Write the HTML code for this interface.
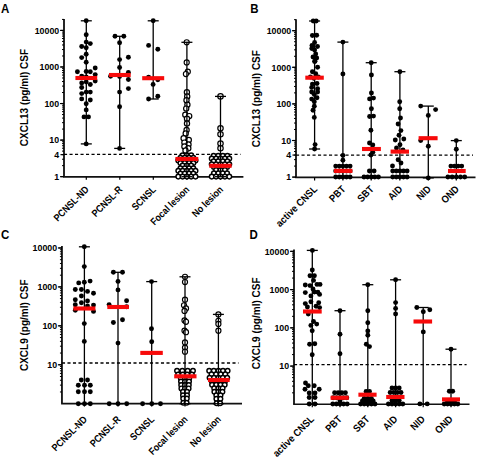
<!DOCTYPE html><html><head><meta charset="utf-8"><style>html,body{margin:0;padding:0;background:#fff;}svg{display:block;}</style></head><body>
<svg width="480" height="460" viewBox="0 0 480 460" font-family='"Liberation Sans", sans-serif'>
<rect width="480" height="460" fill="#fff"/>
<text transform="translate(1.0 12.7) scale(0.92 1)" font-size="12.5" font-weight="bold">A</text>
<text transform="translate(250.3 12.5) scale(0.92 1)" font-size="12.5" font-weight="bold">B</text>
<text transform="translate(0.9 239.3) scale(0.92 1)" font-size="12.5" font-weight="bold">C</text>
<text transform="translate(249.6 239.3) scale(0.92 1)" font-size="12.5" font-weight="bold">D</text>
<line x1="64.0" y1="18.9" x2="64.0" y2="176.85" stroke="#000" stroke-width="1.7"/>
<line x1="63.15" y1="176.85" x2="243.4" y2="176.85" stroke="#111" stroke-width="1.6"/>
<line x1="60.0" y1="176.66" x2="64.0" y2="176.66" stroke="#000" stroke-width="1"/>
<line x1="62.0" y1="165.65" x2="64.0" y2="165.65" stroke="#000" stroke-width="1"/>
<line x1="62.0" y1="159.22" x2="64.0" y2="159.22" stroke="#000" stroke-width="1"/>
<line x1="62.0" y1="154.65" x2="64.0" y2="154.65" stroke="#000" stroke-width="1"/>
<line x1="62.0" y1="151.11" x2="64.0" y2="151.11" stroke="#000" stroke-width="1"/>
<line x1="62.0" y1="148.21" x2="64.0" y2="148.21" stroke="#000" stroke-width="1"/>
<line x1="62.0" y1="145.76" x2="64.0" y2="145.76" stroke="#000" stroke-width="1"/>
<line x1="62.0" y1="143.64" x2="64.0" y2="143.64" stroke="#000" stroke-width="1"/>
<line x1="62.0" y1="141.77" x2="64.0" y2="141.77" stroke="#000" stroke-width="1"/>
<line x1="60.0" y1="140.10" x2="64.0" y2="140.10" stroke="#000" stroke-width="1"/>
<line x1="62.0" y1="129.09" x2="64.0" y2="129.09" stroke="#000" stroke-width="1"/>
<line x1="62.0" y1="122.66" x2="64.0" y2="122.66" stroke="#000" stroke-width="1"/>
<line x1="62.0" y1="118.09" x2="64.0" y2="118.09" stroke="#000" stroke-width="1"/>
<line x1="62.0" y1="114.55" x2="64.0" y2="114.55" stroke="#000" stroke-width="1"/>
<line x1="62.0" y1="111.65" x2="64.0" y2="111.65" stroke="#000" stroke-width="1"/>
<line x1="62.0" y1="109.20" x2="64.0" y2="109.20" stroke="#000" stroke-width="1"/>
<line x1="62.0" y1="107.08" x2="64.0" y2="107.08" stroke="#000" stroke-width="1"/>
<line x1="62.0" y1="105.21" x2="64.0" y2="105.21" stroke="#000" stroke-width="1"/>
<line x1="60.0" y1="103.54" x2="64.0" y2="103.54" stroke="#000" stroke-width="1"/>
<line x1="62.0" y1="92.53" x2="64.0" y2="92.53" stroke="#000" stroke-width="1"/>
<line x1="62.0" y1="86.10" x2="64.0" y2="86.10" stroke="#000" stroke-width="1"/>
<line x1="62.0" y1="81.53" x2="64.0" y2="81.53" stroke="#000" stroke-width="1"/>
<line x1="62.0" y1="77.99" x2="64.0" y2="77.99" stroke="#000" stroke-width="1"/>
<line x1="62.0" y1="75.09" x2="64.0" y2="75.09" stroke="#000" stroke-width="1"/>
<line x1="62.0" y1="72.64" x2="64.0" y2="72.64" stroke="#000" stroke-width="1"/>
<line x1="62.0" y1="70.52" x2="64.0" y2="70.52" stroke="#000" stroke-width="1"/>
<line x1="62.0" y1="68.65" x2="64.0" y2="68.65" stroke="#000" stroke-width="1"/>
<line x1="60.0" y1="66.98" x2="64.0" y2="66.98" stroke="#000" stroke-width="1"/>
<line x1="62.0" y1="55.97" x2="64.0" y2="55.97" stroke="#000" stroke-width="1"/>
<line x1="62.0" y1="49.54" x2="64.0" y2="49.54" stroke="#000" stroke-width="1"/>
<line x1="62.0" y1="44.97" x2="64.0" y2="44.97" stroke="#000" stroke-width="1"/>
<line x1="62.0" y1="41.43" x2="64.0" y2="41.43" stroke="#000" stroke-width="1"/>
<line x1="62.0" y1="38.53" x2="64.0" y2="38.53" stroke="#000" stroke-width="1"/>
<line x1="62.0" y1="36.08" x2="64.0" y2="36.08" stroke="#000" stroke-width="1"/>
<line x1="62.0" y1="33.96" x2="64.0" y2="33.96" stroke="#000" stroke-width="1"/>
<line x1="62.0" y1="32.09" x2="64.0" y2="32.09" stroke="#000" stroke-width="1"/>
<line x1="60.0" y1="30.42" x2="64.0" y2="30.42" stroke="#000" stroke-width="1"/>
<line x1="62.0" y1="19.41" x2="64.0" y2="19.41" stroke="#000" stroke-width="1"/>
<line x1="60.5" y1="176.66" x2="64.0" y2="176.66" stroke="#000" stroke-width="1.2"/>
<text transform="translate(59.20 179.91) scale(0.92 1)" text-anchor="end" font-size="9.6" font-weight="bold">1</text>
<line x1="60.5" y1="154.65" x2="64.0" y2="154.65" stroke="#000" stroke-width="1.2"/>
<text transform="translate(59.20 157.90) scale(0.92 1)" text-anchor="end" font-size="9.6" font-weight="bold">4</text>
<line x1="60.5" y1="140.10" x2="64.0" y2="140.10" stroke="#000" stroke-width="1.2"/>
<text transform="translate(59.20 143.35) scale(0.92 1)" text-anchor="end" font-size="9.6" font-weight="bold">10</text>
<line x1="60.5" y1="103.54" x2="64.0" y2="103.54" stroke="#000" stroke-width="1.2"/>
<text transform="translate(59.20 106.79) scale(0.92 1)" text-anchor="end" font-size="9.6" font-weight="bold">100</text>
<line x1="60.5" y1="66.98" x2="64.0" y2="66.98" stroke="#000" stroke-width="1.2"/>
<text transform="translate(59.20 70.23) scale(0.92 1)" text-anchor="end" font-size="9.6" font-weight="bold">1000</text>
<line x1="60.5" y1="30.42" x2="64.0" y2="30.42" stroke="#000" stroke-width="1.2"/>
<text transform="translate(59.20 33.67) scale(0.92 1)" text-anchor="end" font-size="9.6" font-weight="bold">10000</text>
<line x1="64.0" y1="154.4" x2="240.5" y2="154.4" stroke="#000" stroke-width="1.3" stroke-dasharray="3.1 2.4"/>
<line x1="86.3" y1="176.85" x2="86.3" y2="179.85" stroke="#000" stroke-width="1.2"/>
<text transform="translate(89.50 190.15) rotate(-45) scale(0.87 1)" text-anchor="end" font-size="10" font-weight="bold">PCNSL-ND</text>
<line x1="119.8" y1="176.85" x2="119.8" y2="179.85" stroke="#000" stroke-width="1.2"/>
<text transform="translate(123.00 190.15) rotate(-45) scale(0.87 1)" text-anchor="end" font-size="10" font-weight="bold">PCNSL-R</text>
<line x1="153.3" y1="176.85" x2="153.3" y2="179.85" stroke="#000" stroke-width="1.2"/>
<text transform="translate(156.50 190.15) rotate(-45) scale(0.87 1)" text-anchor="end" font-size="10" font-weight="bold">SCNSL</text>
<line x1="186.9" y1="176.85" x2="186.9" y2="179.85" stroke="#000" stroke-width="1.2"/>
<text transform="translate(190.10 190.15) rotate(-45) scale(0.87 1)" text-anchor="end" font-size="10" font-weight="bold">Focal lesion</text>
<line x1="220.5" y1="176.85" x2="220.5" y2="179.85" stroke="#000" stroke-width="1.2"/>
<text transform="translate(223.70 190.15) rotate(-45) scale(0.87 1)" text-anchor="end" font-size="10" font-weight="bold">No lesion</text>
<text x="28.3" y="97.6" text-anchor="middle" font-size="10" font-weight="bold" transform="rotate(-90 28.3 97.6)">CXCL13 (pg/ml) CSF</text>
<line x1="86.3" y1="20.8" x2="86.3" y2="143.9" stroke="#000" stroke-width="1.3"/>
<line x1="80.8" y1="20.8" x2="91.8" y2="20.8" stroke="#000" stroke-width="1.3"/>
<line x1="80.8" y1="143.9" x2="91.8" y2="143.9" stroke="#000" stroke-width="1.3"/>
<circle cx="86.2" cy="20.8" r="2.45"/>
<circle cx="86.2" cy="34.8" r="2.45"/>
<circle cx="86.2" cy="42.1" r="2.45"/>
<circle cx="90.3" cy="43.6" r="2.45"/>
<circle cx="81.7" cy="46.5" r="2.45"/>
<circle cx="86.2" cy="47.7" r="2.45"/>
<circle cx="86.2" cy="54.3" r="2.45"/>
<circle cx="81.7" cy="57.6" r="2.45"/>
<circle cx="86.2" cy="62.2" r="2.45"/>
<circle cx="95.2" cy="68" r="2.45"/>
<circle cx="77.4" cy="71.8" r="2.45"/>
<circle cx="86.2" cy="71.5" r="2.45"/>
<circle cx="90.3" cy="71.8" r="2.45"/>
<circle cx="95.2" cy="74.6" r="2.45"/>
<circle cx="81.7" cy="76.1" r="2.45"/>
<circle cx="86.2" cy="77" r="2.45"/>
<circle cx="95.2" cy="81" r="2.45"/>
<circle cx="81.7" cy="82.9" r="2.45"/>
<circle cx="86.2" cy="81.9" r="2.45"/>
<circle cx="90.3" cy="84.5" r="2.45"/>
<circle cx="81.7" cy="87.5" r="2.45"/>
<circle cx="81.7" cy="93.6" r="2.45"/>
<circle cx="86.2" cy="92.1" r="2.45"/>
<circle cx="90.3" cy="92.1" r="2.45"/>
<circle cx="81.7" cy="98.9" r="2.45"/>
<circle cx="90.3" cy="100" r="2.45"/>
<circle cx="86.2" cy="103.8" r="2.45"/>
<circle cx="86.2" cy="109.9" r="2.45"/>
<circle cx="84" cy="116.9" r="2.45"/>
<circle cx="88.5" cy="116.9" r="2.45"/>
<circle cx="86.2" cy="143.9" r="2.45"/>
<rect x="75.4" y="75.95" width="21.799999999999997" height="4.1" fill="#f70a0a"/>
<line x1="119.7" y1="36.3" x2="119.7" y2="148.4" stroke="#000" stroke-width="1.3"/>
<line x1="114.2" y1="36.3" x2="125.2" y2="36.3" stroke="#000" stroke-width="1.3"/>
<line x1="114.2" y1="148.4" x2="125.2" y2="148.4" stroke="#000" stroke-width="1.3"/>
<circle cx="115" cy="36.3" r="2.45"/>
<circle cx="123.8" cy="36.3" r="2.45"/>
<circle cx="119.6" cy="42.8" r="2.45"/>
<circle cx="128.4" cy="57.3" r="2.45"/>
<circle cx="119.6" cy="59.6" r="2.45"/>
<circle cx="119.6" cy="67.5" r="2.45"/>
<circle cx="128.4" cy="72.5" r="2.45"/>
<circle cx="110.6" cy="76.3" r="2.45"/>
<circle cx="119.6" cy="76.6" r="2.45"/>
<circle cx="128.4" cy="79.5" r="2.45"/>
<circle cx="128.4" cy="88.6" r="2.45"/>
<circle cx="119.6" cy="92.1" r="2.45"/>
<circle cx="119.6" cy="106.8" r="2.45"/>
<circle cx="119.6" cy="148.4" r="2.45"/>
<rect x="109.0" y="72.95" width="21.69999999999999" height="4.1" fill="#f70a0a"/>
<line x1="153.2" y1="20.8" x2="153.2" y2="99.0" stroke="#000" stroke-width="1.3"/>
<line x1="147.7" y1="20.8" x2="158.7" y2="20.8" stroke="#000" stroke-width="1.3"/>
<line x1="147.7" y1="99.0" x2="158.7" y2="99.0" stroke="#000" stroke-width="1.3"/>
<circle cx="153.2" cy="20.8" r="2.45"/>
<circle cx="148.6" cy="45.4" r="2.45"/>
<circle cx="157.8" cy="49.2" r="2.45"/>
<circle cx="148.6" cy="77.1" r="2.45"/>
<circle cx="157.8" cy="79.7" r="2.45"/>
<circle cx="153.1" cy="84.4" r="2.45"/>
<circle cx="157.8" cy="96.3" r="2.45"/>
<circle cx="148.6" cy="99" r="2.45"/>
<rect x="142.2" y="76.15" width="22.0" height="4.1" fill="#f70a0a"/>
<circle cx="186.7" cy="42.3" r="2.55" fill="#fff" stroke="#000" stroke-width="1.15"/>
<circle cx="186.7" cy="62.4" r="2.55" fill="#fff" stroke="#000" stroke-width="1.15"/>
<circle cx="187.8" cy="71.7" r="2.55" fill="#fff" stroke="#000" stroke-width="1.15"/>
<circle cx="185.9" cy="74.1" r="2.55" fill="#fff" stroke="#000" stroke-width="1.15"/>
<circle cx="186.9" cy="92.3" r="2.6" fill="#fff" stroke="#000" stroke-width="1.2"/>
<circle cx="187.2" cy="96.4" r="2.6" fill="#fff" stroke="#000" stroke-width="1.2"/>
<circle cx="186.5" cy="100.2" r="2.6" fill="#fff" stroke="#000" stroke-width="1.2"/>
<circle cx="187.4" cy="104.8" r="2.6" fill="#fff" stroke="#000" stroke-width="1.2"/>
<circle cx="186.2" cy="108.6" r="2.6" fill="#fff" stroke="#000" stroke-width="1.2"/>
<circle cx="185.3" cy="114.8" r="2.6" fill="#fff" stroke="#000" stroke-width="1.2"/>
<circle cx="189.2" cy="116.1" r="2.6" fill="#fff" stroke="#000" stroke-width="1.2"/>
<circle cx="187" cy="118.7" r="2.6" fill="#fff" stroke="#000" stroke-width="1.2"/>
<circle cx="187" cy="123.5" r="2.6" fill="#fff" stroke="#000" stroke-width="1.2"/>
<circle cx="186.6" cy="130" r="2.6" fill="#fff" stroke="#000" stroke-width="1.2"/>
<circle cx="185.7" cy="133.5" r="2.6" fill="#fff" stroke="#000" stroke-width="1.2"/>
<circle cx="183.6" cy="138.3" r="2.6" fill="#fff" stroke="#000" stroke-width="1.2"/>
<circle cx="188.8" cy="140" r="2.6" fill="#fff" stroke="#000" stroke-width="1.2"/>
<circle cx="184.4" cy="142.6" r="2.6" fill="#fff" stroke="#000" stroke-width="1.2"/>
<circle cx="188.5" cy="144.5" r="2.6" fill="#fff" stroke="#000" stroke-width="1.2"/>
<circle cx="184.4" cy="146.5" r="2.6" fill="#fff" stroke="#000" stroke-width="1.2"/>
<circle cx="188.3" cy="148.3" r="2.6" fill="#fff" stroke="#000" stroke-width="1.2"/>
<circle cx="185.5" cy="150.5" r="2.6" fill="#fff" stroke="#000" stroke-width="1.2"/>
<circle cx="182.6" cy="155.2" r="2.3" fill="#fff" stroke="#000" stroke-width="1.45"/>
<circle cx="186.9" cy="155.2" r="2.3" fill="#fff" stroke="#000" stroke-width="1.45"/>
<circle cx="191.20000000000002" cy="155.2" r="2.3" fill="#fff" stroke="#000" stroke-width="1.45"/>
<circle cx="180.45000000000002" cy="157.8" r="2.3" fill="#fff" stroke="#000" stroke-width="1.45"/>
<circle cx="184.75" cy="157.8" r="2.3" fill="#fff" stroke="#000" stroke-width="1.45"/>
<circle cx="189.05" cy="157.8" r="2.3" fill="#fff" stroke="#000" stroke-width="1.45"/>
<circle cx="193.35" cy="157.8" r="2.3" fill="#fff" stroke="#000" stroke-width="1.45"/>
<circle cx="178.3" cy="160.4" r="2.3" fill="#fff" stroke="#000" stroke-width="1.45"/>
<circle cx="182.6" cy="160.4" r="2.3" fill="#fff" stroke="#000" stroke-width="1.45"/>
<circle cx="186.9" cy="160.4" r="2.3" fill="#fff" stroke="#000" stroke-width="1.45"/>
<circle cx="191.20000000000002" cy="160.4" r="2.3" fill="#fff" stroke="#000" stroke-width="1.45"/>
<circle cx="195.5" cy="160.4" r="2.3" fill="#fff" stroke="#000" stroke-width="1.45"/>
<circle cx="180.45000000000002" cy="163" r="2.3" fill="#fff" stroke="#000" stroke-width="1.45"/>
<circle cx="184.75" cy="163" r="2.3" fill="#fff" stroke="#000" stroke-width="1.45"/>
<circle cx="189.05" cy="163" r="2.3" fill="#fff" stroke="#000" stroke-width="1.45"/>
<circle cx="193.35" cy="163" r="2.3" fill="#fff" stroke="#000" stroke-width="1.45"/>
<circle cx="182.6" cy="165.6" r="2.3" fill="#fff" stroke="#000" stroke-width="1.45"/>
<circle cx="186.9" cy="165.6" r="2.3" fill="#fff" stroke="#000" stroke-width="1.45"/>
<circle cx="191.20000000000002" cy="165.6" r="2.3" fill="#fff" stroke="#000" stroke-width="1.45"/>
<circle cx="180.45000000000002" cy="168.2" r="2.3" fill="#fff" stroke="#000" stroke-width="1.45"/>
<circle cx="184.75" cy="168.2" r="2.3" fill="#fff" stroke="#000" stroke-width="1.45"/>
<circle cx="189.05" cy="168.2" r="2.3" fill="#fff" stroke="#000" stroke-width="1.45"/>
<circle cx="193.35" cy="168.2" r="2.3" fill="#fff" stroke="#000" stroke-width="1.45"/>
<circle cx="178.3" cy="170.8" r="2.3" fill="#fff" stroke="#000" stroke-width="1.45"/>
<circle cx="182.6" cy="170.8" r="2.3" fill="#fff" stroke="#000" stroke-width="1.45"/>
<circle cx="186.9" cy="170.8" r="2.3" fill="#fff" stroke="#000" stroke-width="1.45"/>
<circle cx="191.20000000000002" cy="170.8" r="2.3" fill="#fff" stroke="#000" stroke-width="1.45"/>
<circle cx="195.5" cy="170.8" r="2.3" fill="#fff" stroke="#000" stroke-width="1.45"/>
<circle cx="180.45000000000002" cy="173.6" r="2.3" fill="#fff" stroke="#000" stroke-width="1.45"/>
<circle cx="184.75" cy="173.6" r="2.3" fill="#fff" stroke="#000" stroke-width="1.45"/>
<circle cx="189.05" cy="173.6" r="2.3" fill="#fff" stroke="#000" stroke-width="1.45"/>
<circle cx="193.35" cy="173.6" r="2.3" fill="#fff" stroke="#000" stroke-width="1.45"/>
<circle cx="178.3" cy="176.6" r="2.3" fill="#fff" stroke="#000" stroke-width="1.45"/>
<circle cx="182.6" cy="176.6" r="2.3" fill="#fff" stroke="#000" stroke-width="1.45"/>
<circle cx="186.9" cy="176.6" r="2.3" fill="#fff" stroke="#000" stroke-width="1.45"/>
<circle cx="191.20000000000002" cy="176.6" r="2.3" fill="#fff" stroke="#000" stroke-width="1.45"/>
<circle cx="195.5" cy="176.6" r="2.3" fill="#fff" stroke="#000" stroke-width="1.45"/>
<line x1="186.9" y1="42.3" x2="186.9" y2="176.7" stroke="#000" stroke-width="1.3"/>
<line x1="181.4" y1="42.3" x2="192.4" y2="42.3" stroke="#000" stroke-width="1.3"/>
<line x1="181.4" y1="176.7" x2="192.4" y2="176.7" stroke="#000" stroke-width="1.3"/>
<rect x="175.4" y="156.95" width="22.900000000000006" height="4.1" fill="#f70a0a"/>
<circle cx="220.5" cy="96.4" r="2.7" fill="#fff" stroke="#000" stroke-width="1.2"/>
<circle cx="220.5" cy="128.3" r="2.7" fill="#fff" stroke="#000" stroke-width="1.2"/>
<circle cx="220.5" cy="134.3" r="2.7" fill="#fff" stroke="#000" stroke-width="1.2"/>
<circle cx="220.5" cy="143.5" r="2.7" fill="#fff" stroke="#000" stroke-width="1.2"/>
<circle cx="220.5" cy="148.3" r="2.7" fill="#fff" stroke="#000" stroke-width="1.2"/>
<circle cx="213.6" cy="155.8" r="2.3" fill="#fff" stroke="#000" stroke-width="1.45"/>
<circle cx="218.2" cy="155.8" r="2.3" fill="#fff" stroke="#000" stroke-width="1.45"/>
<circle cx="222.8" cy="155.8" r="2.3" fill="#fff" stroke="#000" stroke-width="1.45"/>
<circle cx="227.4" cy="155.8" r="2.3" fill="#fff" stroke="#000" stroke-width="1.45"/>
<circle cx="211.7" cy="158.6" r="2.3" fill="#fff" stroke="#000" stroke-width="1.45"/>
<circle cx="216.1" cy="158.6" r="2.3" fill="#fff" stroke="#000" stroke-width="1.45"/>
<circle cx="220.5" cy="158.6" r="2.3" fill="#fff" stroke="#000" stroke-width="1.45"/>
<circle cx="224.9" cy="158.6" r="2.3" fill="#fff" stroke="#000" stroke-width="1.45"/>
<circle cx="229.3" cy="158.6" r="2.3" fill="#fff" stroke="#000" stroke-width="1.45"/>
<circle cx="213.6" cy="161.4" r="2.3" fill="#fff" stroke="#000" stroke-width="1.45"/>
<circle cx="218.2" cy="161.4" r="2.3" fill="#fff" stroke="#000" stroke-width="1.45"/>
<circle cx="222.8" cy="161.4" r="2.3" fill="#fff" stroke="#000" stroke-width="1.45"/>
<circle cx="227.4" cy="161.4" r="2.3" fill="#fff" stroke="#000" stroke-width="1.45"/>
<circle cx="211.7" cy="164.2" r="2.3" fill="#fff" stroke="#000" stroke-width="1.45"/>
<circle cx="216.1" cy="164.2" r="2.3" fill="#fff" stroke="#000" stroke-width="1.45"/>
<circle cx="220.5" cy="164.2" r="2.3" fill="#fff" stroke="#000" stroke-width="1.45"/>
<circle cx="224.9" cy="164.2" r="2.3" fill="#fff" stroke="#000" stroke-width="1.45"/>
<circle cx="229.3" cy="164.2" r="2.3" fill="#fff" stroke="#000" stroke-width="1.45"/>
<circle cx="213.9" cy="167" r="2.3" fill="#fff" stroke="#000" stroke-width="1.45"/>
<circle cx="218.3" cy="167" r="2.3" fill="#fff" stroke="#000" stroke-width="1.45"/>
<circle cx="222.7" cy="167" r="2.3" fill="#fff" stroke="#000" stroke-width="1.45"/>
<circle cx="227.1" cy="167" r="2.3" fill="#fff" stroke="#000" stroke-width="1.45"/>
<circle cx="216.1" cy="170" r="2.3" fill="#fff" stroke="#000" stroke-width="1.45"/>
<circle cx="220.5" cy="170" r="2.3" fill="#fff" stroke="#000" stroke-width="1.45"/>
<circle cx="224.9" cy="170" r="2.3" fill="#fff" stroke="#000" stroke-width="1.45"/>
<circle cx="213.9" cy="173.2" r="2.3" fill="#fff" stroke="#000" stroke-width="1.45"/>
<circle cx="218.3" cy="173.2" r="2.3" fill="#fff" stroke="#000" stroke-width="1.45"/>
<circle cx="222.7" cy="173.2" r="2.3" fill="#fff" stroke="#000" stroke-width="1.45"/>
<circle cx="227.1" cy="173.2" r="2.3" fill="#fff" stroke="#000" stroke-width="1.45"/>
<circle cx="211.7" cy="176.6" r="2.3" fill="#fff" stroke="#000" stroke-width="1.45"/>
<circle cx="216.1" cy="176.6" r="2.3" fill="#fff" stroke="#000" stroke-width="1.45"/>
<circle cx="220.5" cy="176.6" r="2.3" fill="#fff" stroke="#000" stroke-width="1.45"/>
<circle cx="224.9" cy="176.6" r="2.3" fill="#fff" stroke="#000" stroke-width="1.45"/>
<circle cx="229.3" cy="176.6" r="2.3" fill="#fff" stroke="#000" stroke-width="1.45"/>
<line x1="220.5" y1="96.4" x2="220.5" y2="176.7" stroke="#000" stroke-width="1.3"/>
<line x1="215.0" y1="96.4" x2="226.0" y2="96.4" stroke="#000" stroke-width="1.3"/>
<line x1="215.0" y1="176.7" x2="226.0" y2="176.7" stroke="#000" stroke-width="1.3"/>
<rect x="209.3" y="163.75" width="22.299999999999983" height="4.1" fill="#f70a0a"/>
<line x1="296.0" y1="19.2" x2="296.0" y2="177.4" stroke="#000" stroke-width="1.7"/>
<line x1="295.15" y1="177.4" x2="475.5" y2="177.4" stroke="#111" stroke-width="1.6"/>
<line x1="292.0" y1="177.10" x2="296.0" y2="177.10" stroke="#000" stroke-width="1"/>
<line x1="294.0" y1="166.08" x2="296.0" y2="166.08" stroke="#000" stroke-width="1"/>
<line x1="294.0" y1="159.64" x2="296.0" y2="159.64" stroke="#000" stroke-width="1"/>
<line x1="294.0" y1="155.06" x2="296.0" y2="155.06" stroke="#000" stroke-width="1"/>
<line x1="294.0" y1="151.52" x2="296.0" y2="151.52" stroke="#000" stroke-width="1"/>
<line x1="294.0" y1="148.62" x2="296.0" y2="148.62" stroke="#000" stroke-width="1"/>
<line x1="294.0" y1="146.17" x2="296.0" y2="146.17" stroke="#000" stroke-width="1"/>
<line x1="294.0" y1="144.05" x2="296.0" y2="144.05" stroke="#000" stroke-width="1"/>
<line x1="294.0" y1="142.17" x2="296.0" y2="142.17" stroke="#000" stroke-width="1"/>
<line x1="292.0" y1="140.50" x2="296.0" y2="140.50" stroke="#000" stroke-width="1"/>
<line x1="294.0" y1="129.48" x2="296.0" y2="129.48" stroke="#000" stroke-width="1"/>
<line x1="294.0" y1="123.04" x2="296.0" y2="123.04" stroke="#000" stroke-width="1"/>
<line x1="294.0" y1="118.46" x2="296.0" y2="118.46" stroke="#000" stroke-width="1"/>
<line x1="294.0" y1="114.92" x2="296.0" y2="114.92" stroke="#000" stroke-width="1"/>
<line x1="294.0" y1="112.02" x2="296.0" y2="112.02" stroke="#000" stroke-width="1"/>
<line x1="294.0" y1="109.57" x2="296.0" y2="109.57" stroke="#000" stroke-width="1"/>
<line x1="294.0" y1="107.45" x2="296.0" y2="107.45" stroke="#000" stroke-width="1"/>
<line x1="294.0" y1="105.57" x2="296.0" y2="105.57" stroke="#000" stroke-width="1"/>
<line x1="292.0" y1="103.90" x2="296.0" y2="103.90" stroke="#000" stroke-width="1"/>
<line x1="294.0" y1="92.88" x2="296.0" y2="92.88" stroke="#000" stroke-width="1"/>
<line x1="294.0" y1="86.44" x2="296.0" y2="86.44" stroke="#000" stroke-width="1"/>
<line x1="294.0" y1="81.86" x2="296.0" y2="81.86" stroke="#000" stroke-width="1"/>
<line x1="294.0" y1="78.32" x2="296.0" y2="78.32" stroke="#000" stroke-width="1"/>
<line x1="294.0" y1="75.42" x2="296.0" y2="75.42" stroke="#000" stroke-width="1"/>
<line x1="294.0" y1="72.97" x2="296.0" y2="72.97" stroke="#000" stroke-width="1"/>
<line x1="294.0" y1="70.85" x2="296.0" y2="70.85" stroke="#000" stroke-width="1"/>
<line x1="294.0" y1="68.97" x2="296.0" y2="68.97" stroke="#000" stroke-width="1"/>
<line x1="292.0" y1="67.30" x2="296.0" y2="67.30" stroke="#000" stroke-width="1"/>
<line x1="294.0" y1="56.28" x2="296.0" y2="56.28" stroke="#000" stroke-width="1"/>
<line x1="294.0" y1="49.84" x2="296.0" y2="49.84" stroke="#000" stroke-width="1"/>
<line x1="294.0" y1="45.26" x2="296.0" y2="45.26" stroke="#000" stroke-width="1"/>
<line x1="294.0" y1="41.72" x2="296.0" y2="41.72" stroke="#000" stroke-width="1"/>
<line x1="294.0" y1="38.82" x2="296.0" y2="38.82" stroke="#000" stroke-width="1"/>
<line x1="294.0" y1="36.37" x2="296.0" y2="36.37" stroke="#000" stroke-width="1"/>
<line x1="294.0" y1="34.25" x2="296.0" y2="34.25" stroke="#000" stroke-width="1"/>
<line x1="294.0" y1="32.37" x2="296.0" y2="32.37" stroke="#000" stroke-width="1"/>
<line x1="292.0" y1="30.70" x2="296.0" y2="30.70" stroke="#000" stroke-width="1"/>
<line x1="294.0" y1="19.68" x2="296.0" y2="19.68" stroke="#000" stroke-width="1"/>
<line x1="292.5" y1="177.10" x2="296.0" y2="177.10" stroke="#000" stroke-width="1.2"/>
<text transform="translate(291.20 180.35) scale(0.92 1)" text-anchor="end" font-size="9.6" font-weight="bold">1</text>
<line x1="292.5" y1="155.06" x2="296.0" y2="155.06" stroke="#000" stroke-width="1.2"/>
<text transform="translate(291.20 158.31) scale(0.92 1)" text-anchor="end" font-size="9.6" font-weight="bold">4</text>
<line x1="292.5" y1="140.50" x2="296.0" y2="140.50" stroke="#000" stroke-width="1.2"/>
<text transform="translate(291.20 143.75) scale(0.92 1)" text-anchor="end" font-size="9.6" font-weight="bold">10</text>
<line x1="292.5" y1="103.90" x2="296.0" y2="103.90" stroke="#000" stroke-width="1.2"/>
<text transform="translate(291.20 107.15) scale(0.92 1)" text-anchor="end" font-size="9.6" font-weight="bold">100</text>
<line x1="292.5" y1="67.30" x2="296.0" y2="67.30" stroke="#000" stroke-width="1.2"/>
<text transform="translate(291.20 70.55) scale(0.92 1)" text-anchor="end" font-size="9.6" font-weight="bold">1000</text>
<line x1="292.5" y1="30.70" x2="296.0" y2="30.70" stroke="#000" stroke-width="1.2"/>
<text transform="translate(291.20 33.95) scale(0.92 1)" text-anchor="end" font-size="9.6" font-weight="bold">10000</text>
<line x1="296.0" y1="155.2" x2="473" y2="155.2" stroke="#000" stroke-width="1.3" stroke-dasharray="3.1 2.4"/>
<line x1="314.6" y1="177.4" x2="314.6" y2="180.4" stroke="#000" stroke-width="1.2"/>
<text transform="translate(317.90 189.70) rotate(-45) scale(0.9 1)" text-anchor="end" font-size="10.2" font-weight="bold">active CNSL</text>
<line x1="342.9" y1="177.4" x2="342.9" y2="180.4" stroke="#000" stroke-width="1.2"/>
<text transform="translate(346.20 189.70) rotate(-45) scale(0.9 1)" text-anchor="end" font-size="10.2" font-weight="bold">PBT</text>
<line x1="371.2" y1="177.4" x2="371.2" y2="180.4" stroke="#000" stroke-width="1.2"/>
<text transform="translate(374.50 189.70) rotate(-45) scale(0.9 1)" text-anchor="end" font-size="10.2" font-weight="bold">SBT</text>
<line x1="399.8" y1="177.4" x2="399.8" y2="180.4" stroke="#000" stroke-width="1.2"/>
<text transform="translate(403.10 189.70) rotate(-45) scale(0.9 1)" text-anchor="end" font-size="10.2" font-weight="bold">AID</text>
<line x1="428.3" y1="177.4" x2="428.3" y2="180.4" stroke="#000" stroke-width="1.2"/>
<text transform="translate(431.60 189.70) rotate(-45) scale(0.9 1)" text-anchor="end" font-size="10.2" font-weight="bold">NID</text>
<line x1="456.3" y1="177.4" x2="456.3" y2="180.4" stroke="#000" stroke-width="1.2"/>
<text transform="translate(459.60 189.70) rotate(-45) scale(0.9 1)" text-anchor="end" font-size="10.2" font-weight="bold">OND</text>
<text x="259.8" y="98.7" text-anchor="middle" font-size="10" font-weight="bold" transform="rotate(-90 259.8 98.7)">CXCL13 (pg/ml) CSF</text>
<line x1="314.6" y1="21" x2="314.6" y2="149" stroke="#000" stroke-width="1.3"/>
<line x1="309.1" y1="21" x2="320.1" y2="21" stroke="#000" stroke-width="1.3"/>
<line x1="309.1" y1="149" x2="320.1" y2="149" stroke="#000" stroke-width="1.3"/>
<circle cx="313.2" cy="21" r="2.45"/>
<circle cx="316.2" cy="21" r="2.45"/>
<circle cx="312.4" cy="35.5" r="2.45"/>
<circle cx="316.7" cy="35.3" r="2.45"/>
<circle cx="314.6" cy="42.5" r="2.45"/>
<circle cx="312" cy="45.5" r="2.45"/>
<circle cx="317.5" cy="46.5" r="2.45"/>
<circle cx="311.8" cy="48.5" r="2.45"/>
<circle cx="314.6" cy="50" r="2.45"/>
<circle cx="315.7" cy="54" r="2.45"/>
<circle cx="313" cy="57" r="2.45"/>
<circle cx="316.7" cy="58" r="2.45"/>
<circle cx="314.6" cy="61.5" r="2.45"/>
<circle cx="315" cy="61.3" r="2.45"/>
<circle cx="317.6" cy="67.2" r="2.45"/>
<circle cx="312.4" cy="71.7" r="2.45"/>
<circle cx="315.7" cy="73.7" r="2.45"/>
<circle cx="313.7" cy="78.3" r="2.45"/>
<circle cx="318.3" cy="77" r="2.45"/>
<circle cx="310.4" cy="77" r="2.45"/>
<circle cx="312.4" cy="84.1" r="2.45"/>
<circle cx="317" cy="83.5" r="2.45"/>
<circle cx="311.7" cy="87.4" r="2.45"/>
<circle cx="317.6" cy="88.7" r="2.45"/>
<circle cx="311.7" cy="92" r="2.45"/>
<circle cx="317.6" cy="92" r="2.45"/>
<circle cx="314.3" cy="94.6" r="2.45"/>
<circle cx="311.7" cy="99.1" r="2.45"/>
<circle cx="317" cy="97.8" r="2.45"/>
<circle cx="314.3" cy="101.7" r="2.45"/>
<circle cx="314.3" cy="106.3" r="2.45"/>
<circle cx="313" cy="110.2" r="2.45"/>
<circle cx="314.3" cy="117.4" r="2.45"/>
<circle cx="315.1" cy="144.6" r="2.45"/>
<circle cx="314.6" cy="149" r="2.45"/>
<rect x="305.3" y="75.65" width="18.5" height="4.1" fill="#f70a0a"/>
<line x1="342.9" y1="42.1" x2="342.9" y2="177.1" stroke="#000" stroke-width="1.3"/>
<line x1="337.4" y1="42.1" x2="348.4" y2="42.1" stroke="#000" stroke-width="1.3"/>
<line x1="337.4" y1="177.1" x2="348.4" y2="177.1" stroke="#000" stroke-width="1.3"/>
<circle cx="342.9" cy="42.1" r="2.45"/>
<circle cx="342.9" cy="74" r="2.45"/>
<circle cx="342.9" cy="155.4" r="2.45"/>
<circle cx="342.9" cy="160.3" r="2.45"/>
<circle cx="335.7" cy="166.1" r="2.45"/>
<circle cx="339.29999999999995" cy="166.1" r="2.45"/>
<circle cx="342.9" cy="166.1" r="2.45"/>
<circle cx="346.5" cy="166.1" r="2.45"/>
<circle cx="350.09999999999997" cy="166.1" r="2.45"/>
<circle cx="335.7" cy="171" r="2.45"/>
<circle cx="339.29999999999995" cy="171" r="2.45"/>
<circle cx="342.9" cy="171" r="2.45"/>
<circle cx="346.5" cy="171" r="2.45"/>
<circle cx="350.09999999999997" cy="171" r="2.45"/>
<circle cx="335.7" cy="177" r="2.45"/>
<circle cx="339.29999999999995" cy="177" r="2.45"/>
<circle cx="342.9" cy="177" r="2.45"/>
<circle cx="346.5" cy="177" r="2.45"/>
<circle cx="350.09999999999997" cy="177" r="2.45"/>
<rect x="333.9" y="168.85" width="18.5" height="4.1" fill="#f70a0a"/>
<line x1="371.2" y1="62.7" x2="371.2" y2="177.1" stroke="#000" stroke-width="1.3"/>
<line x1="365.7" y1="62.7" x2="376.7" y2="62.7" stroke="#000" stroke-width="1.3"/>
<line x1="365.7" y1="177.1" x2="376.7" y2="177.1" stroke="#000" stroke-width="1.3"/>
<circle cx="371.2" cy="62.7" r="2.45"/>
<circle cx="371.4" cy="75" r="2.45"/>
<circle cx="371.4" cy="93" r="2.45"/>
<circle cx="369.6" cy="98.9" r="2.45"/>
<circle cx="373.5" cy="98.1" r="2.45"/>
<circle cx="371.4" cy="108.7" r="2.45"/>
<circle cx="369.6" cy="116.5" r="2.45"/>
<circle cx="373.5" cy="116.1" r="2.45"/>
<circle cx="370.9" cy="130.3" r="2.45"/>
<circle cx="369.5" cy="143" r="2.45"/>
<circle cx="372.8" cy="145" r="2.45"/>
<circle cx="372.8" cy="152.2" r="2.45"/>
<circle cx="370.9" cy="155" r="2.45"/>
<circle cx="369.4" cy="171" r="2.45"/>
<circle cx="374.1" cy="171" r="2.45"/>
<circle cx="364.0" cy="177" r="2.45"/>
<circle cx="367.59999999999997" cy="177" r="2.45"/>
<circle cx="371.2" cy="177" r="2.45"/>
<circle cx="374.8" cy="177" r="2.45"/>
<circle cx="378.4" cy="177" r="2.45"/>
<rect x="362.0" y="146.95" width="18.899999999999977" height="4.1" fill="#f70a0a"/>
<line x1="399.9" y1="71.7" x2="399.9" y2="177.1" stroke="#000" stroke-width="1.3"/>
<line x1="394.4" y1="71.7" x2="405.4" y2="71.7" stroke="#000" stroke-width="1.3"/>
<line x1="394.4" y1="177.1" x2="405.4" y2="177.1" stroke="#000" stroke-width="1.3"/>
<circle cx="399.9" cy="71.7" r="2.45"/>
<circle cx="399.7" cy="101.8" r="2.45"/>
<circle cx="399.7" cy="108.7" r="2.45"/>
<circle cx="400.5" cy="118" r="2.45"/>
<circle cx="398.1" cy="124" r="2.45"/>
<circle cx="400.9" cy="130.6" r="2.45"/>
<circle cx="399" cy="135.3" r="2.45"/>
<circle cx="395.3" cy="140" r="2.45"/>
<circle cx="403.8" cy="139" r="2.45"/>
<circle cx="400" cy="144.7" r="2.45"/>
<circle cx="396.5" cy="148" r="2.45"/>
<circle cx="403" cy="150" r="2.45"/>
<circle cx="398.1" cy="159.7" r="2.45"/>
<circle cx="392.5" cy="165.9" r="2.45"/>
<circle cx="401" cy="163" r="2.45"/>
<circle cx="392.7" cy="171" r="2.45"/>
<circle cx="396.29999999999995" cy="171" r="2.45"/>
<circle cx="399.9" cy="171" r="2.45"/>
<circle cx="403.5" cy="171" r="2.45"/>
<circle cx="407.09999999999997" cy="171" r="2.45"/>
<circle cx="392.7" cy="177" r="2.45"/>
<circle cx="396.29999999999995" cy="177" r="2.45"/>
<circle cx="399.9" cy="177" r="2.45"/>
<circle cx="403.5" cy="177" r="2.45"/>
<circle cx="407.09999999999997" cy="177" r="2.45"/>
<rect x="390.6" y="149.54999999999998" width="18.399999999999977" height="4.1" fill="#f70a0a"/>
<line x1="428.3" y1="106.1" x2="428.3" y2="177.9" stroke="#000" stroke-width="1.3"/>
<line x1="422.8" y1="106.1" x2="433.8" y2="106.1" stroke="#000" stroke-width="1.3"/>
<line x1="422.8" y1="177.9" x2="433.8" y2="177.9" stroke="#000" stroke-width="1.3"/>
<circle cx="420.7" cy="106.1" r="2.45"/>
<circle cx="435.6" cy="109.6" r="2.45"/>
<circle cx="428.3" cy="115.4" r="2.45"/>
<circle cx="420.7" cy="140.6" r="2.45"/>
<circle cx="428.3" cy="146.2" r="2.45"/>
<circle cx="428.3" cy="177.9" r="2.45"/>
<rect x="418.6" y="136.14999999999998" width="19.0" height="4.1" fill="#f70a0a"/>
<line x1="456.3" y1="140.6" x2="456.3" y2="177.1" stroke="#000" stroke-width="1.3"/>
<line x1="450.8" y1="140.6" x2="461.8" y2="140.6" stroke="#000" stroke-width="1.3"/>
<line x1="450.8" y1="177.1" x2="461.8" y2="177.1" stroke="#000" stroke-width="1.3"/>
<circle cx="456.3" cy="140.6" r="2.45"/>
<circle cx="456.3" cy="149.3" r="2.45"/>
<circle cx="450.90000000000003" cy="166.1" r="2.45"/>
<circle cx="454.5" cy="166.1" r="2.45"/>
<circle cx="458.1" cy="166.1" r="2.45"/>
<circle cx="461.7" cy="166.1" r="2.45"/>
<circle cx="447.90000000000003" cy="177" r="2.45"/>
<circle cx="452.1" cy="177" r="2.45"/>
<circle cx="456.3" cy="177" r="2.45"/>
<circle cx="460.5" cy="177" r="2.45"/>
<circle cx="464.7" cy="177" r="2.45"/>
<rect x="448.0" y="168.95" width="17.69999999999999" height="4.1" fill="#f70a0a"/>
<line x1="61.95" y1="246.1" x2="61.95" y2="403.6" stroke="#000" stroke-width="1.7"/>
<line x1="61.1" y1="403.6" x2="242" y2="403.6" stroke="#111" stroke-width="1.6"/>
<line x1="59.95" y1="391.98" x2="61.95" y2="391.98" stroke="#000" stroke-width="1"/>
<line x1="59.95" y1="385.13" x2="61.95" y2="385.13" stroke="#000" stroke-width="1"/>
<line x1="59.95" y1="380.26" x2="61.95" y2="380.26" stroke="#000" stroke-width="1"/>
<line x1="59.95" y1="376.49" x2="61.95" y2="376.49" stroke="#000" stroke-width="1"/>
<line x1="59.95" y1="373.41" x2="61.95" y2="373.41" stroke="#000" stroke-width="1"/>
<line x1="59.95" y1="370.80" x2="61.95" y2="370.80" stroke="#000" stroke-width="1"/>
<line x1="59.95" y1="368.54" x2="61.95" y2="368.54" stroke="#000" stroke-width="1"/>
<line x1="59.95" y1="366.55" x2="61.95" y2="366.55" stroke="#000" stroke-width="1"/>
<line x1="57.95" y1="364.77" x2="61.95" y2="364.77" stroke="#000" stroke-width="1"/>
<line x1="59.95" y1="353.05" x2="61.95" y2="353.05" stroke="#000" stroke-width="1"/>
<line x1="59.95" y1="346.20" x2="61.95" y2="346.20" stroke="#000" stroke-width="1"/>
<line x1="59.95" y1="341.33" x2="61.95" y2="341.33" stroke="#000" stroke-width="1"/>
<line x1="59.95" y1="337.56" x2="61.95" y2="337.56" stroke="#000" stroke-width="1"/>
<line x1="59.95" y1="334.48" x2="61.95" y2="334.48" stroke="#000" stroke-width="1"/>
<line x1="59.95" y1="331.87" x2="61.95" y2="331.87" stroke="#000" stroke-width="1"/>
<line x1="59.95" y1="329.61" x2="61.95" y2="329.61" stroke="#000" stroke-width="1"/>
<line x1="59.95" y1="327.62" x2="61.95" y2="327.62" stroke="#000" stroke-width="1"/>
<line x1="57.95" y1="325.84" x2="61.95" y2="325.84" stroke="#000" stroke-width="1"/>
<line x1="59.95" y1="314.12" x2="61.95" y2="314.12" stroke="#000" stroke-width="1"/>
<line x1="59.95" y1="307.27" x2="61.95" y2="307.27" stroke="#000" stroke-width="1"/>
<line x1="59.95" y1="302.40" x2="61.95" y2="302.40" stroke="#000" stroke-width="1"/>
<line x1="59.95" y1="298.63" x2="61.95" y2="298.63" stroke="#000" stroke-width="1"/>
<line x1="59.95" y1="295.55" x2="61.95" y2="295.55" stroke="#000" stroke-width="1"/>
<line x1="59.95" y1="292.94" x2="61.95" y2="292.94" stroke="#000" stroke-width="1"/>
<line x1="59.95" y1="290.68" x2="61.95" y2="290.68" stroke="#000" stroke-width="1"/>
<line x1="59.95" y1="288.69" x2="61.95" y2="288.69" stroke="#000" stroke-width="1"/>
<line x1="57.95" y1="286.91" x2="61.95" y2="286.91" stroke="#000" stroke-width="1"/>
<line x1="59.95" y1="275.19" x2="61.95" y2="275.19" stroke="#000" stroke-width="1"/>
<line x1="59.95" y1="268.34" x2="61.95" y2="268.34" stroke="#000" stroke-width="1"/>
<line x1="59.95" y1="263.47" x2="61.95" y2="263.47" stroke="#000" stroke-width="1"/>
<line x1="59.95" y1="259.70" x2="61.95" y2="259.70" stroke="#000" stroke-width="1"/>
<line x1="59.95" y1="256.62" x2="61.95" y2="256.62" stroke="#000" stroke-width="1"/>
<line x1="59.95" y1="254.01" x2="61.95" y2="254.01" stroke="#000" stroke-width="1"/>
<line x1="59.95" y1="251.75" x2="61.95" y2="251.75" stroke="#000" stroke-width="1"/>
<line x1="59.95" y1="249.76" x2="61.95" y2="249.76" stroke="#000" stroke-width="1"/>
<line x1="57.95" y1="247.98" x2="61.95" y2="247.98" stroke="#000" stroke-width="1"/>
<line x1="58.45" y1="364.77" x2="61.95" y2="364.77" stroke="#000" stroke-width="1.2"/>
<text transform="translate(57.15 368.02) scale(0.92 1)" text-anchor="end" font-size="9.6" font-weight="bold">10</text>
<line x1="58.45" y1="325.84" x2="61.95" y2="325.84" stroke="#000" stroke-width="1.2"/>
<text transform="translate(57.15 329.09) scale(0.92 1)" text-anchor="end" font-size="9.6" font-weight="bold">100</text>
<line x1="58.45" y1="286.91" x2="61.95" y2="286.91" stroke="#000" stroke-width="1.2"/>
<text transform="translate(57.15 290.16) scale(0.92 1)" text-anchor="end" font-size="9.6" font-weight="bold">1000</text>
<line x1="58.45" y1="247.98" x2="61.95" y2="247.98" stroke="#000" stroke-width="1.2"/>
<text transform="translate(57.15 251.23) scale(0.92 1)" text-anchor="end" font-size="9.6" font-weight="bold">10000</text>
<line x1="61.95" y1="363.0" x2="238.5" y2="363.0" stroke="#000" stroke-width="1.3" stroke-dasharray="3.1 2.4"/>
<line x1="84.4" y1="403.6" x2="84.4" y2="406.6" stroke="#000" stroke-width="1.2"/>
<text transform="translate(87.60 420.10) rotate(-45) scale(0.87 1)" text-anchor="end" font-size="10" font-weight="bold">PCNSL-ND</text>
<line x1="118.0" y1="403.6" x2="118.0" y2="406.6" stroke="#000" stroke-width="1.2"/>
<text transform="translate(121.20 420.10) rotate(-45) scale(0.87 1)" text-anchor="end" font-size="10" font-weight="bold">PCNSL-R</text>
<line x1="151.7" y1="403.6" x2="151.7" y2="406.6" stroke="#000" stroke-width="1.2"/>
<text transform="translate(154.90 420.10) rotate(-45) scale(0.87 1)" text-anchor="end" font-size="10" font-weight="bold">SCNSL</text>
<line x1="185.0" y1="403.6" x2="185.0" y2="406.6" stroke="#000" stroke-width="1.2"/>
<text transform="translate(188.20 420.10) rotate(-45) scale(0.87 1)" text-anchor="end" font-size="10" font-weight="bold">Focal lesion</text>
<line x1="218.4" y1="403.6" x2="218.4" y2="406.6" stroke="#000" stroke-width="1.2"/>
<text transform="translate(221.60 420.10) rotate(-45) scale(0.87 1)" text-anchor="end" font-size="10" font-weight="bold">No lesion</text>
<text x="28.3" y="325.2" text-anchor="middle" font-size="10" font-weight="bold" transform="rotate(-90 28.3 325.2)">CXCL9 (pg/ml) CSF</text>
<line x1="84.4" y1="246.8" x2="84.4" y2="403.7" stroke="#000" stroke-width="1.3"/>
<line x1="78.9" y1="246.8" x2="89.9" y2="246.8" stroke="#000" stroke-width="1.3"/>
<line x1="78.9" y1="403.7" x2="89.9" y2="403.7" stroke="#000" stroke-width="1.3"/>
<circle cx="84.3" cy="246.8" r="2.45"/>
<circle cx="84.3" cy="266.6" r="2.45"/>
<circle cx="78.7" cy="282.9" r="2.45"/>
<circle cx="84.3" cy="282.3" r="2.45"/>
<circle cx="90.1" cy="281.1" r="2.45"/>
<circle cx="75.3" cy="289.5" r="2.45"/>
<circle cx="81.4" cy="289.5" r="2.45"/>
<circle cx="87.5" cy="291.4" r="2.45"/>
<circle cx="93.5" cy="293.3" r="2.45"/>
<circle cx="81.4" cy="296" r="2.45"/>
<circle cx="75.3" cy="299.7" r="2.45"/>
<circle cx="87.5" cy="300.9" r="2.45"/>
<circle cx="81.4" cy="302.7" r="2.45"/>
<circle cx="75.3" cy="304.7" r="2.45"/>
<circle cx="93.5" cy="305.1" r="2.45"/>
<circle cx="75.3" cy="310.3" r="2.45"/>
<circle cx="93.5" cy="311.4" r="2.45"/>
<circle cx="87.5" cy="306" r="2.45"/>
<circle cx="84.3" cy="323.6" r="2.45"/>
<circle cx="84.3" cy="341.4" r="2.45"/>
<circle cx="81.3" cy="380" r="2.45"/>
<circle cx="87.5" cy="380" r="2.45"/>
<circle cx="78.3" cy="385.3" r="2.45"/>
<circle cx="84.5" cy="385.3" r="2.45"/>
<circle cx="90.3" cy="385.3" r="2.45"/>
<circle cx="78.3" cy="391.7" r="2.45"/>
<circle cx="84.5" cy="391.7" r="2.45"/>
<circle cx="90.3" cy="391.7" r="2.45"/>
<circle cx="78.3" cy="403.7" r="2.45"/>
<circle cx="84.5" cy="403.7" r="2.45"/>
<circle cx="90.3" cy="403.7" r="2.45"/>
<rect x="73.4" y="306.45" width="22.0" height="4.1" fill="#f70a0a"/>
<line x1="118.0" y1="272.3" x2="118.0" y2="403.7" stroke="#000" stroke-width="1.3"/>
<line x1="112.5" y1="272.3" x2="123.5" y2="272.3" stroke="#000" stroke-width="1.3"/>
<line x1="112.5" y1="403.7" x2="123.5" y2="403.7" stroke="#000" stroke-width="1.3"/>
<circle cx="113.4" cy="272.3" r="2.45"/>
<circle cx="122.5" cy="272.3" r="2.45"/>
<circle cx="118" cy="281.4" r="2.45"/>
<circle cx="118" cy="289.9" r="2.45"/>
<circle cx="126.6" cy="300.7" r="2.45"/>
<circle cx="109.1" cy="304.6" r="2.45"/>
<circle cx="126.6" cy="306.8" r="2.45"/>
<circle cx="122.5" cy="319.8" r="2.45"/>
<circle cx="113.4" cy="322.5" r="2.45"/>
<circle cx="118" cy="343.1" r="2.45"/>
<circle cx="109.2" cy="403.7" r="2.45"/>
<circle cx="118" cy="403.7" r="2.45"/>
<circle cx="126.7" cy="403.7" r="2.45"/>
<rect x="107.3" y="304.95" width="21.60000000000001" height="4.1" fill="#f70a0a"/>
<line x1="151.7" y1="281.6" x2="151.7" y2="403.7" stroke="#000" stroke-width="1.3"/>
<line x1="146.2" y1="281.6" x2="157.2" y2="281.6" stroke="#000" stroke-width="1.3"/>
<line x1="146.2" y1="403.7" x2="157.2" y2="403.7" stroke="#000" stroke-width="1.3"/>
<circle cx="151.5" cy="281.6" r="2.45"/>
<circle cx="151.5" cy="328.7" r="2.45"/>
<circle cx="151.7" cy="341.7" r="2.45"/>
<circle cx="142.6" cy="403.8" r="2.45"/>
<circle cx="151.8" cy="403.8" r="2.45"/>
<circle cx="160.5" cy="403.8" r="2.45"/>
<rect x="140.3" y="350.84999999999997" width="22.5" height="4.1" fill="#f70a0a"/>
<circle cx="185" cy="276.8" r="2.55" fill="#fff" stroke="#000" stroke-width="1.15"/>
<circle cx="185" cy="282" r="2.55" fill="#fff" stroke="#000" stroke-width="1.15"/>
<circle cx="185" cy="299.7" r="2.55" fill="#fff" stroke="#000" stroke-width="1.15"/>
<circle cx="184" cy="305.3" r="2.55" fill="#fff" stroke="#000" stroke-width="1.15"/>
<circle cx="186" cy="308.4" r="2.55" fill="#fff" stroke="#000" stroke-width="1.15"/>
<circle cx="184.5" cy="310.9" r="2.55" fill="#fff" stroke="#000" stroke-width="1.15"/>
<circle cx="184.5" cy="320.4" r="2.55" fill="#fff" stroke="#000" stroke-width="1.15"/>
<circle cx="186" cy="321.8" r="2.55" fill="#fff" stroke="#000" stroke-width="1.15"/>
<circle cx="184.5" cy="330.7" r="2.55" fill="#fff" stroke="#000" stroke-width="1.15"/>
<circle cx="186" cy="332.2" r="2.55" fill="#fff" stroke="#000" stroke-width="1.15"/>
<circle cx="185" cy="342.4" r="2.55" fill="#fff" stroke="#000" stroke-width="1.15"/>
<circle cx="185" cy="347.6" r="2.55" fill="#fff" stroke="#000" stroke-width="1.15"/>
<circle cx="185" cy="351.7" r="2.55" fill="#fff" stroke="#000" stroke-width="1.15"/>
<circle cx="177.05" cy="370.8" r="2.3" fill="#fff" stroke="#000" stroke-width="1.45"/>
<circle cx="182.35" cy="370.8" r="2.3" fill="#fff" stroke="#000" stroke-width="1.45"/>
<circle cx="187.65" cy="370.8" r="2.3" fill="#fff" stroke="#000" stroke-width="1.45"/>
<circle cx="192.95" cy="370.8" r="2.3" fill="#fff" stroke="#000" stroke-width="1.45"/>
<circle cx="178.1" cy="374.5" r="2.3" fill="#fff" stroke="#000" stroke-width="1.45"/>
<circle cx="182.7" cy="374.5" r="2.3" fill="#fff" stroke="#000" stroke-width="1.45"/>
<circle cx="187.3" cy="374.5" r="2.3" fill="#fff" stroke="#000" stroke-width="1.45"/>
<circle cx="191.9" cy="374.5" r="2.3" fill="#fff" stroke="#000" stroke-width="1.45"/>
<circle cx="180.8" cy="378.3" r="2.3" fill="#fff" stroke="#000" stroke-width="1.45"/>
<circle cx="185.0" cy="378.3" r="2.3" fill="#fff" stroke="#000" stroke-width="1.45"/>
<circle cx="189.2" cy="378.3" r="2.3" fill="#fff" stroke="#000" stroke-width="1.45"/>
<circle cx="181.0" cy="381.6" r="2.3" fill="#fff" stroke="#000" stroke-width="1.45"/>
<circle cx="185.0" cy="381.6" r="2.3" fill="#fff" stroke="#000" stroke-width="1.45"/>
<circle cx="189.0" cy="381.6" r="2.3" fill="#fff" stroke="#000" stroke-width="1.45"/>
<circle cx="181.2" cy="385" r="2.3" fill="#fff" stroke="#000" stroke-width="1.45"/>
<circle cx="185.0" cy="385" r="2.3" fill="#fff" stroke="#000" stroke-width="1.45"/>
<circle cx="188.8" cy="385" r="2.3" fill="#fff" stroke="#000" stroke-width="1.45"/>
<circle cx="181.4" cy="388.4" r="2.3" fill="#fff" stroke="#000" stroke-width="1.45"/>
<circle cx="185.0" cy="388.4" r="2.3" fill="#fff" stroke="#000" stroke-width="1.45"/>
<circle cx="188.6" cy="388.4" r="2.3" fill="#fff" stroke="#000" stroke-width="1.45"/>
<circle cx="183.0" cy="391.8" r="2.3" fill="#fff" stroke="#000" stroke-width="1.45"/>
<circle cx="187.0" cy="391.8" r="2.3" fill="#fff" stroke="#000" stroke-width="1.45"/>
<circle cx="183.0" cy="395.2" r="2.3" fill="#fff" stroke="#000" stroke-width="1.45"/>
<circle cx="187.0" cy="395.2" r="2.3" fill="#fff" stroke="#000" stroke-width="1.45"/>
<circle cx="183.2" cy="398.6" r="2.3" fill="#fff" stroke="#000" stroke-width="1.45"/>
<circle cx="186.8" cy="398.6" r="2.3" fill="#fff" stroke="#000" stroke-width="1.45"/>
<circle cx="183.4" cy="402.8" r="2.3" fill="#fff" stroke="#000" stroke-width="1.45"/>
<circle cx="186.6" cy="402.8" r="2.3" fill="#fff" stroke="#000" stroke-width="1.45"/>
<line x1="185.0" y1="276.8" x2="185.0" y2="403.7" stroke="#000" stroke-width="1.3"/>
<line x1="179.5" y1="276.8" x2="190.5" y2="276.8" stroke="#000" stroke-width="1.3"/>
<line x1="179.5" y1="403.7" x2="190.5" y2="403.7" stroke="#000" stroke-width="1.3"/>
<rect x="174.2" y="374.25" width="22.30000000000001" height="4.1" fill="#f70a0a"/>
<circle cx="218.4" cy="314.4" r="2.55" fill="#fff" stroke="#000" stroke-width="1.15"/>
<circle cx="218.4" cy="320.8" r="2.55" fill="#fff" stroke="#000" stroke-width="1.15"/>
<circle cx="218.4" cy="323.9" r="2.55" fill="#fff" stroke="#000" stroke-width="1.15"/>
<circle cx="218.4" cy="330.7" r="2.55" fill="#fff" stroke="#000" stroke-width="1.15"/>
<circle cx="209.20000000000002" cy="370.8" r="2.3" fill="#fff" stroke="#000" stroke-width="1.45"/>
<circle cx="213.8" cy="370.8" r="2.3" fill="#fff" stroke="#000" stroke-width="1.45"/>
<circle cx="218.4" cy="370.8" r="2.3" fill="#fff" stroke="#000" stroke-width="1.45"/>
<circle cx="223.0" cy="370.8" r="2.3" fill="#fff" stroke="#000" stroke-width="1.45"/>
<circle cx="227.6" cy="370.8" r="2.3" fill="#fff" stroke="#000" stroke-width="1.45"/>
<circle cx="211.5" cy="374.3" r="2.3" fill="#fff" stroke="#000" stroke-width="1.45"/>
<circle cx="216.1" cy="374.3" r="2.3" fill="#fff" stroke="#000" stroke-width="1.45"/>
<circle cx="220.70000000000002" cy="374.3" r="2.3" fill="#fff" stroke="#000" stroke-width="1.45"/>
<circle cx="225.3" cy="374.3" r="2.3" fill="#fff" stroke="#000" stroke-width="1.45"/>
<circle cx="209.6" cy="377.8" r="2.3" fill="#fff" stroke="#000" stroke-width="1.45"/>
<circle cx="214.0" cy="377.8" r="2.3" fill="#fff" stroke="#000" stroke-width="1.45"/>
<circle cx="218.4" cy="377.8" r="2.3" fill="#fff" stroke="#000" stroke-width="1.45"/>
<circle cx="222.8" cy="377.8" r="2.3" fill="#fff" stroke="#000" stroke-width="1.45"/>
<circle cx="227.20000000000002" cy="377.8" r="2.3" fill="#fff" stroke="#000" stroke-width="1.45"/>
<circle cx="211.8" cy="381.3" r="2.3" fill="#fff" stroke="#000" stroke-width="1.45"/>
<circle cx="216.20000000000002" cy="381.3" r="2.3" fill="#fff" stroke="#000" stroke-width="1.45"/>
<circle cx="220.6" cy="381.3" r="2.3" fill="#fff" stroke="#000" stroke-width="1.45"/>
<circle cx="225.0" cy="381.3" r="2.3" fill="#fff" stroke="#000" stroke-width="1.45"/>
<circle cx="212.1" cy="384.8" r="2.3" fill="#fff" stroke="#000" stroke-width="1.45"/>
<circle cx="216.3" cy="384.8" r="2.3" fill="#fff" stroke="#000" stroke-width="1.45"/>
<circle cx="220.5" cy="384.8" r="2.3" fill="#fff" stroke="#000" stroke-width="1.45"/>
<circle cx="224.70000000000002" cy="384.8" r="2.3" fill="#fff" stroke="#000" stroke-width="1.45"/>
<circle cx="214.20000000000002" cy="388.3" r="2.3" fill="#fff" stroke="#000" stroke-width="1.45"/>
<circle cx="218.4" cy="388.3" r="2.3" fill="#fff" stroke="#000" stroke-width="1.45"/>
<circle cx="222.6" cy="388.3" r="2.3" fill="#fff" stroke="#000" stroke-width="1.45"/>
<circle cx="214.4" cy="391.8" r="2.3" fill="#fff" stroke="#000" stroke-width="1.45"/>
<circle cx="218.4" cy="391.8" r="2.3" fill="#fff" stroke="#000" stroke-width="1.45"/>
<circle cx="222.4" cy="391.8" r="2.3" fill="#fff" stroke="#000" stroke-width="1.45"/>
<circle cx="216.3" cy="395.3" r="2.3" fill="#fff" stroke="#000" stroke-width="1.45"/>
<circle cx="220.5" cy="395.3" r="2.3" fill="#fff" stroke="#000" stroke-width="1.45"/>
<circle cx="216.4" cy="398.8" r="2.3" fill="#fff" stroke="#000" stroke-width="1.45"/>
<circle cx="220.4" cy="398.8" r="2.3" fill="#fff" stroke="#000" stroke-width="1.45"/>
<circle cx="216.70000000000002" cy="403.3" r="2.3" fill="#fff" stroke="#000" stroke-width="1.45"/>
<circle cx="220.1" cy="403.3" r="2.3" fill="#fff" stroke="#000" stroke-width="1.45"/>
<line x1="218.4" y1="314.4" x2="218.4" y2="403.7" stroke="#000" stroke-width="1.3"/>
<line x1="212.9" y1="314.4" x2="223.9" y2="314.4" stroke="#000" stroke-width="1.3"/>
<line x1="212.9" y1="403.7" x2="223.9" y2="403.7" stroke="#000" stroke-width="1.3"/>
<rect x="208.0" y="377.95" width="21.69999999999999" height="4.1" fill="#f70a0a"/>
<line x1="294.0" y1="249.6" x2="294.0" y2="404.25" stroke="#000" stroke-width="1.7"/>
<line x1="293.15" y1="404.25" x2="469.5" y2="404.25" stroke="#111" stroke-width="1.6"/>
<line x1="292.0" y1="392.84" x2="294.0" y2="392.84" stroke="#000" stroke-width="1"/>
<line x1="292.0" y1="386.10" x2="294.0" y2="386.10" stroke="#000" stroke-width="1"/>
<line x1="292.0" y1="381.32" x2="294.0" y2="381.32" stroke="#000" stroke-width="1"/>
<line x1="292.0" y1="377.61" x2="294.0" y2="377.61" stroke="#000" stroke-width="1"/>
<line x1="292.0" y1="374.59" x2="294.0" y2="374.59" stroke="#000" stroke-width="1"/>
<line x1="292.0" y1="372.02" x2="294.0" y2="372.02" stroke="#000" stroke-width="1"/>
<line x1="292.0" y1="369.81" x2="294.0" y2="369.81" stroke="#000" stroke-width="1"/>
<line x1="292.0" y1="367.85" x2="294.0" y2="367.85" stroke="#000" stroke-width="1"/>
<line x1="290.0" y1="366.10" x2="294.0" y2="366.10" stroke="#000" stroke-width="1"/>
<line x1="292.0" y1="354.59" x2="294.0" y2="354.59" stroke="#000" stroke-width="1"/>
<line x1="292.0" y1="347.85" x2="294.0" y2="347.85" stroke="#000" stroke-width="1"/>
<line x1="292.0" y1="343.07" x2="294.0" y2="343.07" stroke="#000" stroke-width="1"/>
<line x1="292.0" y1="339.36" x2="294.0" y2="339.36" stroke="#000" stroke-width="1"/>
<line x1="292.0" y1="336.34" x2="294.0" y2="336.34" stroke="#000" stroke-width="1"/>
<line x1="292.0" y1="333.77" x2="294.0" y2="333.77" stroke="#000" stroke-width="1"/>
<line x1="292.0" y1="331.56" x2="294.0" y2="331.56" stroke="#000" stroke-width="1"/>
<line x1="292.0" y1="329.60" x2="294.0" y2="329.60" stroke="#000" stroke-width="1"/>
<line x1="290.0" y1="327.85" x2="294.0" y2="327.85" stroke="#000" stroke-width="1"/>
<line x1="292.0" y1="316.34" x2="294.0" y2="316.34" stroke="#000" stroke-width="1"/>
<line x1="292.0" y1="309.60" x2="294.0" y2="309.60" stroke="#000" stroke-width="1"/>
<line x1="292.0" y1="304.82" x2="294.0" y2="304.82" stroke="#000" stroke-width="1"/>
<line x1="292.0" y1="301.11" x2="294.0" y2="301.11" stroke="#000" stroke-width="1"/>
<line x1="292.0" y1="298.09" x2="294.0" y2="298.09" stroke="#000" stroke-width="1"/>
<line x1="292.0" y1="295.52" x2="294.0" y2="295.52" stroke="#000" stroke-width="1"/>
<line x1="292.0" y1="293.31" x2="294.0" y2="293.31" stroke="#000" stroke-width="1"/>
<line x1="292.0" y1="291.35" x2="294.0" y2="291.35" stroke="#000" stroke-width="1"/>
<line x1="290.0" y1="289.60" x2="294.0" y2="289.60" stroke="#000" stroke-width="1"/>
<line x1="292.0" y1="278.09" x2="294.0" y2="278.09" stroke="#000" stroke-width="1"/>
<line x1="292.0" y1="271.35" x2="294.0" y2="271.35" stroke="#000" stroke-width="1"/>
<line x1="292.0" y1="266.57" x2="294.0" y2="266.57" stroke="#000" stroke-width="1"/>
<line x1="292.0" y1="262.86" x2="294.0" y2="262.86" stroke="#000" stroke-width="1"/>
<line x1="292.0" y1="259.84" x2="294.0" y2="259.84" stroke="#000" stroke-width="1"/>
<line x1="292.0" y1="257.27" x2="294.0" y2="257.27" stroke="#000" stroke-width="1"/>
<line x1="292.0" y1="255.06" x2="294.0" y2="255.06" stroke="#000" stroke-width="1"/>
<line x1="292.0" y1="253.10" x2="294.0" y2="253.10" stroke="#000" stroke-width="1"/>
<line x1="290.0" y1="251.35" x2="294.0" y2="251.35" stroke="#000" stroke-width="1"/>
<line x1="290.5" y1="366.10" x2="294.0" y2="366.10" stroke="#000" stroke-width="1.2"/>
<text transform="translate(289.20 369.35) scale(0.92 1)" text-anchor="end" font-size="9.6" font-weight="bold">10</text>
<line x1="290.5" y1="327.85" x2="294.0" y2="327.85" stroke="#000" stroke-width="1.2"/>
<text transform="translate(289.20 331.10) scale(0.92 1)" text-anchor="end" font-size="9.6" font-weight="bold">100</text>
<line x1="290.5" y1="289.60" x2="294.0" y2="289.60" stroke="#000" stroke-width="1.2"/>
<text transform="translate(289.20 292.85) scale(0.92 1)" text-anchor="end" font-size="9.6" font-weight="bold">1000</text>
<line x1="290.5" y1="251.35" x2="294.0" y2="251.35" stroke="#000" stroke-width="1.2"/>
<text transform="translate(289.20 254.60) scale(0.92 1)" text-anchor="end" font-size="9.6" font-weight="bold">10000</text>
<line x1="294.0" y1="364.6" x2="466.6" y2="364.6" stroke="#000" stroke-width="1.3" stroke-dasharray="3.1 2.4"/>
<line x1="312.3" y1="404.25" x2="312.3" y2="407.25" stroke="#000" stroke-width="1.2"/>
<text transform="translate(314.80 419.75) rotate(-45) scale(0.9 1)" text-anchor="end" font-size="10.2" font-weight="bold">active CNSL</text>
<line x1="340.0" y1="404.25" x2="340.0" y2="407.25" stroke="#000" stroke-width="1.2"/>
<text transform="translate(342.50 419.75) rotate(-45) scale(0.9 1)" text-anchor="end" font-size="10.2" font-weight="bold">PBT</text>
<line x1="367.8" y1="404.25" x2="367.8" y2="407.25" stroke="#000" stroke-width="1.2"/>
<text transform="translate(370.30 419.75) rotate(-45) scale(0.9 1)" text-anchor="end" font-size="10.2" font-weight="bold">SBT</text>
<line x1="395.6" y1="404.25" x2="395.6" y2="407.25" stroke="#000" stroke-width="1.2"/>
<text transform="translate(398.10 419.75) rotate(-45) scale(0.9 1)" text-anchor="end" font-size="10.2" font-weight="bold">AID</text>
<line x1="423.2" y1="404.25" x2="423.2" y2="407.25" stroke="#000" stroke-width="1.2"/>
<text transform="translate(425.70 419.75) rotate(-45) scale(0.9 1)" text-anchor="end" font-size="10.2" font-weight="bold">NID</text>
<line x1="451.0" y1="404.25" x2="451.0" y2="407.25" stroke="#000" stroke-width="1.2"/>
<text transform="translate(453.50 419.75) rotate(-45) scale(0.9 1)" text-anchor="end" font-size="10.2" font-weight="bold">OND</text>
<text x="259.6" y="323.3" text-anchor="middle" font-size="10" font-weight="bold" transform="rotate(-90 259.6 323.3)">CXCL9 (pg/ml) CSF</text>
<line x1="312.3" y1="250.4" x2="312.3" y2="404" stroke="#000" stroke-width="1.3"/>
<line x1="306.8" y1="250.4" x2="317.8" y2="250.4" stroke="#000" stroke-width="1.3"/>
<line x1="306.8" y1="404" x2="317.8" y2="404" stroke="#000" stroke-width="1.3"/>
<circle cx="312.4" cy="250.4" r="2.45"/>
<circle cx="312.3" cy="270" r="2.45"/>
<circle cx="310" cy="275.7" r="2.45"/>
<circle cx="314.4" cy="275.7" r="2.45"/>
<circle cx="313.5" cy="280.4" r="2.45"/>
<circle cx="305.3" cy="285" r="2.45"/>
<circle cx="310" cy="285.6" r="2.45"/>
<circle cx="317" cy="284.4" r="2.45"/>
<circle cx="320" cy="284.4" r="2.45"/>
<circle cx="305.3" cy="292.6" r="2.45"/>
<circle cx="314.4" cy="292" r="2.45"/>
<circle cx="317.9" cy="292.3" r="2.45"/>
<circle cx="310.9" cy="296" r="2.45"/>
<circle cx="319.6" cy="294.4" r="2.45"/>
<circle cx="305.3" cy="303.6" r="2.45"/>
<circle cx="310.9" cy="301.8" r="2.45"/>
<circle cx="318.7" cy="302.7" r="2.45"/>
<circle cx="307.4" cy="307" r="2.45"/>
<circle cx="316.1" cy="306.2" r="2.45"/>
<circle cx="319.6" cy="307.6" r="2.45"/>
<circle cx="308.3" cy="314" r="2.45"/>
<circle cx="313" cy="289" r="2.45"/>
<circle cx="313.5" cy="321.5" r="2.45"/>
<circle cx="316.7" cy="324.1" r="2.45"/>
<circle cx="310.9" cy="325.4" r="2.45"/>
<circle cx="312.2" cy="330.7" r="2.45"/>
<circle cx="309.6" cy="344.3" r="2.45"/>
<circle cx="314.8" cy="343.7" r="2.45"/>
<circle cx="312.2" cy="354.8" r="2.45"/>
<circle cx="305.5" cy="383" r="2.45"/>
<circle cx="308.3" cy="385.8" r="2.45"/>
<circle cx="314.2" cy="385.8" r="2.45"/>
<circle cx="305" cy="389.2" r="2.45"/>
<circle cx="319.2" cy="389.2" r="2.45"/>
<circle cx="309.2" cy="393" r="2.45"/>
<circle cx="315" cy="393" r="2.45"/>
<circle cx="309.2" cy="397.5" r="2.45"/>
<circle cx="315" cy="397.5" r="2.45"/>
<circle cx="309.2" cy="404" r="2.45"/>
<circle cx="315" cy="404" r="2.45"/>
<rect x="303.0" y="309.45" width="18.69999999999999" height="4.1" fill="#f70a0a"/>
<line x1="340.0" y1="310.7" x2="340.0" y2="404" stroke="#000" stroke-width="1.3"/>
<line x1="334.5" y1="310.7" x2="345.5" y2="310.7" stroke="#000" stroke-width="1.3"/>
<line x1="334.5" y1="404" x2="345.5" y2="404" stroke="#000" stroke-width="1.3"/>
<circle cx="340.0" cy="310.7" r="2.45"/>
<circle cx="340.0" cy="334.2" r="2.45"/>
<circle cx="340.0" cy="353.7" r="2.45"/>
<circle cx="334.6" cy="392.7" r="2.45"/>
<circle cx="338.2" cy="392.7" r="2.45"/>
<circle cx="341.8" cy="392.7" r="2.45"/>
<circle cx="345.4" cy="392.7" r="2.45"/>
<circle cx="333.2" cy="397.8" r="2.45"/>
<circle cx="336.6" cy="397.8" r="2.45"/>
<circle cx="340.0" cy="397.8" r="2.45"/>
<circle cx="343.4" cy="397.8" r="2.45"/>
<circle cx="346.8" cy="397.8" r="2.45"/>
<circle cx="340.0" cy="400.8" r="2.45"/>
<circle cx="332.8" cy="404" r="2.45"/>
<circle cx="336.4" cy="404" r="2.45"/>
<circle cx="340.0" cy="404" r="2.45"/>
<circle cx="343.6" cy="404" r="2.45"/>
<circle cx="347.2" cy="404" r="2.45"/>
<rect x="330.6" y="395.75" width="18.19999999999999" height="4.1" fill="#f70a0a"/>
<line x1="367.8" y1="284.7" x2="367.8" y2="404" stroke="#000" stroke-width="1.3"/>
<line x1="362.3" y1="284.7" x2="373.3" y2="284.7" stroke="#000" stroke-width="1.3"/>
<line x1="362.3" y1="404" x2="373.3" y2="404" stroke="#000" stroke-width="1.3"/>
<circle cx="367.8" cy="284.7" r="2.45"/>
<circle cx="367.8" cy="310.7" r="2.45"/>
<circle cx="367.8" cy="322.8" r="2.45"/>
<circle cx="367.8" cy="330.9" r="2.45"/>
<circle cx="367.8" cy="335.2" r="2.45"/>
<circle cx="366.3" cy="344.3" r="2.45"/>
<circle cx="369.5" cy="346.6" r="2.45"/>
<circle cx="366.1" cy="391.5" r="2.45"/>
<circle cx="369.5" cy="391.5" r="2.45"/>
<circle cx="364.2" cy="398.5" r="2.45"/>
<circle cx="367.8" cy="398.5" r="2.45"/>
<circle cx="371.40000000000003" cy="398.5" r="2.45"/>
<circle cx="362.40000000000003" cy="401" r="2.45"/>
<circle cx="366.0" cy="401" r="2.45"/>
<circle cx="369.6" cy="401" r="2.45"/>
<circle cx="373.2" cy="401" r="2.45"/>
<circle cx="360.6" cy="404" r="2.45"/>
<circle cx="364.2" cy="404" r="2.45"/>
<circle cx="367.8" cy="404" r="2.45"/>
<circle cx="371.40000000000003" cy="404" r="2.45"/>
<circle cx="375.0" cy="404" r="2.45"/>
<rect x="358.4" y="392.65" width="18.200000000000045" height="4.1" fill="#f70a0a"/>
<line x1="395.6" y1="279.8" x2="395.6" y2="404" stroke="#000" stroke-width="1.3"/>
<line x1="390.1" y1="279.8" x2="401.1" y2="279.8" stroke="#000" stroke-width="1.3"/>
<line x1="390.1" y1="404" x2="401.1" y2="404" stroke="#000" stroke-width="1.3"/>
<circle cx="395.6" cy="279.8" r="2.45"/>
<circle cx="395.6" cy="302.6" r="2.45"/>
<circle cx="395.6" cy="308.4" r="2.45"/>
<circle cx="395.6" cy="314" r="2.45"/>
<circle cx="392.0" cy="388" r="2.45"/>
<circle cx="395.6" cy="388" r="2.45"/>
<circle cx="399.20000000000005" cy="388" r="2.45"/>
<circle cx="390.20000000000005" cy="392.5" r="2.45"/>
<circle cx="393.8" cy="392.5" r="2.45"/>
<circle cx="397.40000000000003" cy="392.5" r="2.45"/>
<circle cx="401.0" cy="392.5" r="2.45"/>
<circle cx="392.0" cy="400.5" r="2.45"/>
<circle cx="395.6" cy="400.5" r="2.45"/>
<circle cx="399.20000000000005" cy="400.5" r="2.45"/>
<circle cx="388.40000000000003" cy="404" r="2.45"/>
<circle cx="392.0" cy="404" r="2.45"/>
<circle cx="395.6" cy="404" r="2.45"/>
<circle cx="399.20000000000005" cy="404" r="2.45"/>
<circle cx="402.8" cy="404" r="2.45"/>
<rect x="386.2" y="394.95" width="18.30000000000001" height="4.1" fill="#f70a0a"/>
<line x1="423.2" y1="307.5" x2="423.2" y2="404" stroke="#000" stroke-width="1.3"/>
<line x1="417.7" y1="307.5" x2="428.7" y2="307.5" stroke="#000" stroke-width="1.3"/>
<line x1="417.7" y1="404" x2="428.7" y2="404" stroke="#000" stroke-width="1.3"/>
<circle cx="416.8" cy="307.5" r="2.45"/>
<circle cx="423.3" cy="311.7" r="2.45"/>
<circle cx="429.8" cy="309.8" r="2.45"/>
<circle cx="423.3" cy="331.9" r="2.45"/>
<circle cx="419.9" cy="403.9" r="2.45"/>
<circle cx="427.2" cy="403.9" r="2.45"/>
<rect x="413.5" y="319.45" width="18.600000000000023" height="4.1" fill="#f70a0a"/>
<line x1="451.0" y1="349.2" x2="451.0" y2="404" stroke="#000" stroke-width="1.3"/>
<line x1="445.5" y1="349.2" x2="456.5" y2="349.2" stroke="#000" stroke-width="1.3"/>
<line x1="445.5" y1="404" x2="456.5" y2="404" stroke="#000" stroke-width="1.3"/>
<circle cx="451.0" cy="349.2" r="2.45"/>
<circle cx="449.3" cy="391.2" r="2.45"/>
<circle cx="452.7" cy="391.2" r="2.45"/>
<circle cx="447.4" cy="401" r="2.45"/>
<circle cx="451.0" cy="401" r="2.45"/>
<circle cx="454.6" cy="401" r="2.45"/>
<circle cx="444.2" cy="404" r="2.45"/>
<circle cx="447.6" cy="404" r="2.45"/>
<circle cx="451.0" cy="404" r="2.45"/>
<circle cx="454.4" cy="404" r="2.45"/>
<circle cx="457.8" cy="404" r="2.45"/>
<rect x="442.0" y="397.34999999999997" width="18.0" height="4.1" fill="#f70a0a"/>
</svg></body></html>
